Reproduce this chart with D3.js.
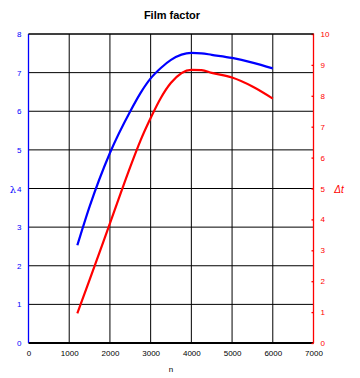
<!DOCTYPE html>
<html><head><meta charset="utf-8">
<script src="https://cdn.jsdelivr.net/npm/d3@7/dist/d3.min.js"></script>
<style>
html,body{margin:0;padding:0;background:#fff;}
svg{display:block;font-family:"Liberation Sans",Arial,sans-serif;}
</style></head>
<body>
<svg id="c" width="360" height="378"></svg>
<script>
const title = "Film factor";
const nValues = [1200, 1500, 2000, 2500, 2750, 3000, 3250, 3500, 4000, 4250, 4500, 5000, 5500, 6000];
const lambdaValues = [2.53, 3.53, 4.92, 6.00, 6.47, 6.85, 7.12, 7.33, 7.51, 7.50, 7.46, 7.38, 7.26, 7.11];
const dtValues = [0.96, 2.04, 3.87, 5.70, 6.55, 7.28, 7.93, 8.42, 8.84, 8.83, 8.74, 8.59, 8.30, 7.91];
const xTicks = [0, 1000, 2000, 3000, 4000, 5000, 6000, 7000];
const leftTicks = [0, 1, 2, 3, 4, 5, 6, 7, 8];
const rightTicks = [0, 1, 2, 3, 4, 5, 6, 7, 8, 9, 10];
const xLabel = "n", leftLabel = "λ", rightLabel = "Δt";

const svg = d3.select("#c");
const L = 28.5, R = 313.5, T = 34, B = 343;
const x = d3.scaleLinear().domain([0, 7000]).range([L, R]);
const yL = d3.scaleLinear().domain([0, 8]).range([B, T]);
const yR = d3.scaleLinear().domain([0, 10]).range([B, T]);
const blue = "#0000ff", red = "#ff0000";

// grid
svg.append("g").selectAll("line").data(leftTicks.filter(d => d > 0)).join("line")
  .attr("x1", L).attr("x2", R).attr("y1", d => yL(d)).attr("y2", d => yL(d))
  .attr("stroke", "#000").attr("stroke-width", 1);
svg.append("g").selectAll("line").data(xTicks.filter(d => d > 0 && d < 7000)).join("line")
  .attr("x1", d => x(d)).attr("x2", d => x(d)).attr("y1", T).attr("y2", B)
  .attr("stroke", "#000").attr("stroke-width", 1);

// bottom axis
const gx = svg.append("g").attr("transform", `translate(0,${B})`)
  .call(d3.axisBottom(x).tickValues(xTicks).tickSize(0).tickPadding(7).tickFormat(d3.format("d")));
gx.select(".domain").remove();
gx.selectAll("text").attr("font-size", 8).attr("fill", "#000").attr("font-family", "Liberation Sans, Arial, sans-serif");
svg.append("line").attr("x1", L).attr("x2", R).attr("y1", B).attr("y2", B)
  .attr("stroke", "#000").attr("stroke-width", 2);

// left axis
const gl = svg.append("g").attr("transform", `translate(${L},0)`)
  .call(d3.axisLeft(yL).tickValues(leftTicks).tickSize(0).tickPadding(7));
gl.select(".domain").remove();
gl.selectAll("text").attr("font-size", 8).attr("fill", blue).attr("font-family", "Liberation Sans, Arial, sans-serif");
svg.append("line").attr("x1", L).attr("x2", L).attr("y1", T).attr("y2", B)
  .attr("stroke", blue).attr("stroke-width", 1.3);

// right axis
const gr = svg.append("g").attr("transform", `translate(${R},0)`)
  .call(d3.axisRight(yR).tickValues(rightTicks).tickSizeInner(-2).tickSizeOuter(0).tickPadding(7));
gr.select(".domain").remove();
gr.selectAll("line").attr("stroke", red).attr("stroke-width", 1.3);
gr.selectAll("text").attr("font-size", 8).attr("fill", red).attr("font-family", "Liberation Sans, Arial, sans-serif");
svg.append("line").attr("x1", R).attr("x2", R).attr("y1", T - 0.5).attr("y2", B)
  .attr("stroke", red).attr("stroke-width", 1.3);

// top border
svg.append("line").attr("x1", L).attr("x2", R).attr("y1", T).attr("y2", T)
  .attr("stroke", "#000").attr("stroke-width", 1);

// lines
const lineL = d3.line().x((d, i) => x(nValues[i])).y(d => yL(d)).curve(d3.curveMonotoneX);
const lineR = d3.line().x((d, i) => x(nValues[i])).y(d => yR(d)).curve(d3.curveMonotoneX);
svg.append("path").attr("d", lineL(lambdaValues)).attr("fill", "none").attr("stroke", blue).attr("stroke-width", 2.2);
svg.append("path").attr("d", lineR(dtValues)).attr("fill", "none").attr("stroke", red).attr("stroke-width", 2.2);

// labels
svg.append("text").attr("x", 172).attr("y", 19).attr("text-anchor", "middle")
  .attr("font-size", 11).attr("font-weight", "bold").attr("fill", "#000").text(title);
svg.append("text").attr("x", (L + R) / 2).attr("y", 372).attr("text-anchor", "middle")
  .attr("font-size", 8).attr("fill", "#000").text(xLabel);
svg.append("text").attr("x", 13).attr("y", yL(4) + 4).attr("text-anchor", "middle")
  .attr("font-size", 10).attr("fill", blue).attr("font-family", "DejaVu Serif, serif").text(leftLabel);
svg.append("text").attr("x", 339).attr("y", yL(4) + 4).attr("text-anchor", "middle")
  .attr("font-size", 10).attr("font-style", "italic").attr("fill", red).text(rightLabel);
</script>
</body></html>
